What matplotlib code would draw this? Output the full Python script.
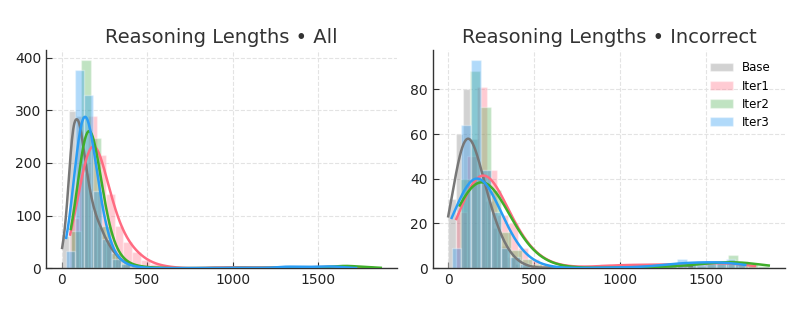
import numpy as np
import matplotlib
matplotlib.use("Agg")
import matplotlib.pyplot as plt
from matplotlib.patches import Patch

# ---------------- data (histogram bins: start, width, counts) ----------------
series_names = ["Base", "Iter1", "Iter2", "Iter3"]

# Panel "All"
all_base_start, all_base_width = 3, 41
all_base_counts = [62, 298, 290, 180, 110, 78, 48, 28, 15, 8, 4, 2, 0, 0, 1, 0,
                   0, 0, 0, 0, 0, 1, 0, 0, 0, 1, 0, 0, 1, 0, 1, 2, 0, 2, 1]
all_iter1_start, all_iter1_width = 50, 52
all_iter1_counts = [95, 200, 290, 215, 140, 80, 50, 30, 16, 8, 4, 2, 0, 0, 0, 0,
                    2, 1, 2, 1, 2, 1, 1, 2, 1, 2, 1, 2, 2, 2, 3, 2, 1, 1]
all_iter2_start, all_iter2_width = 54, 58.5
all_iter2_counts = [70, 395, 248, 80, 28, 10, 4, 2, 1, 0, 0, 0, 0, 0, 0, 0,
                    1, 0, 0, 1, 0, 1, 0, 2, 1, 2, 3, 6, 3, 2, 1]
all_iter3_start, all_iter3_width = 27, 53
all_iter3_counts = [32, 376, 330, 146, 55, 18, 7, 3, 1, 0, 0, 0, 0, 0, 0, 0,
                    0, 1, 0, 1, 0, 1, 0, 2, 4, 2, 2, 3, 3, 4, 2, 0]

# Panel "Incorrect"
inc_base_start, inc_base_width = 0, 43
inc_base_counts = [31, 60, 80, 58, 42, 30, 18, 10, 5, 2, 1, 0, 0, 0, 1, 0,
                   0, 0, 0, 0, 0, 1, 0, 0, 0, 1, 0, 0, 1, 0, 1, 2, 2]
inc_iter1_start, inc_iter1_width = 47, 60
inc_iter1_counts = [25, 50, 81, 44, 24, 20, 9, 4, 2, 1, 0, 1, 0, 0, 2, 1,
                    2, 1, 2, 1, 2, 2, 1, 2, 2, 3, 3, 2, 1]
inc_iter2_start, inc_iter2_width = 67, 60
inc_iter2_counts = [40, 88, 72, 35, 16, 8, 4, 2, 1, 0, 0, 0, 0, 0, 0, 1,
                    0, 0, 1, 0, 1, 0, 2, 1, 2, 3, 6, 3, 2, 1]
inc_iter3_start, inc_iter3_width = 20, 57
inc_iter3_counts = [9, 64, 93, 44, 25, 9, 5, 2, 1, 0, 0, 0, 0, 0, 0, 0,
                    1, 0, 0, 1, 0, 1, 2, 4, 2, 2, 3, 3, 4, 2]

panels = [
    ("Reasoning Lengths • All", [
        (all_base_start, all_base_width, all_base_counts),
        (all_iter1_start, all_iter1_width, all_iter1_counts),
        (all_iter2_start, all_iter2_width, all_iter2_counts),
        (all_iter3_start, all_iter3_width, all_iter3_counts)]),
    ("Reasoning Lengths • Incorrect", [
        (inc_base_start, inc_base_width, inc_base_counts),
        (inc_iter1_start, inc_iter1_width, inc_iter1_counts),
        (inc_iter2_start, inc_iter2_width, inc_iter2_counts),
        (inc_iter3_start, inc_iter3_width, inc_iter3_counts)]),
]

# ---------------- style ----------------
colors = ["#7f7f7f", "#ff6b81", "#4caf50", "#2196f3"]
line_colors = ["#777777", "#ff6b81", "#3fae2a", "#2a9df4"]
bar_alpha = 0.35
# KDE bandwidth adjustment per panel / series
bw_adjusts = [[0.8, 1.0, 0.88, 0.92], [1.0, 1.0, 1.17, 1.0]]


def kde_curve(start, width, counts, adjust=1.0, npts=400):
    c = np.asarray(counts, float)
    edges = start + width * np.arange(len(c) + 1)
    centers = (edges[:-1] + edges[1:]) / 2
    n = c.sum()
    mean = (c * centers).sum() / n
    std = np.sqrt((c * (centers - mean) ** 2).sum() / (n - 1))
    bw = std * n ** (-1 / 5) * adjust
    x = np.linspace(edges[0], edges[-1], npts)
    z = (x[:, None] - centers[None, :]) / bw
    dens = (c[None, :] * np.exp(-0.5 * z ** 2)).sum(1) / (n * bw * np.sqrt(2 * np.pi))
    return x, dens * n * width


plt.rcParams['font.family'] = ['DejaVu Sans']
fig = plt.figure(figsize=(7.97, 3.10), dpi=100)
axes = [fig.add_axes([0.058, 0.135, 0.44, 0.704]),
        fig.add_axes([0.543, 0.135, 0.442, 0.704])]

for pi, (ax, (title, data)) in enumerate(zip(axes, panels)):
    for (start, width, counts), col in zip(data, colors):
        c = np.asarray(counts, float)
        edges = start + width * np.arange(len(c) + 1)
        ax.bar(edges[:-1], c, width=width, align='edge', color=col, alpha=bar_alpha,
               edgecolor='white', linewidth=1.0, zorder=1)
    for si, ((start, width, counts), lc) in enumerate(zip(data, line_colors)):
        x, y = kde_curve(start, width, counts, bw_adjusts[pi][si])
        ax.plot(x, y, color=lc, lw=1.8, zorder=3)
    ax.set_title(title, fontsize=14, color='#333333', pad=5)
    ax.grid(True, linestyle='--', color='#e3e3e3', linewidth=0.8)
    ax.set_axisbelow(True)
    for s in ['top', 'right']:
        ax.spines[s].set_visible(False)
    for s in ['left', 'bottom']:
        ax.spines[s].set_color('#333333')
        ax.spines[s].set_linewidth(1.0)
    ax.tick_params(direction='in', length=4, labelsize=10, colors='#333333',
                   labelcolor='#222222')
    ax.set_xticks([0, 500, 1000, 1500])
    ax.set_ylim(bottom=0)

axes[0].set_xlim(-90, 1962)
axes[1].set_xlim(-90, 1962)
axes[0].set_yticks([0, 100, 200, 300, 400])
axes[1].set_yticks([0, 20, 40, 60, 80])

handles = [Patch(facecolor=c, alpha=bar_alpha, edgecolor='white') for c in colors]
axes[1].legend(handles, series_names, loc='upper right', bbox_to_anchor=(1.0, 1.012),
               frameon=False, fontsize=8.5, labelspacing=0.43, handlelength=2.0,
               handletextpad=0.75, borderaxespad=0.8)

fig.savefig("out.png", dpi=100)
